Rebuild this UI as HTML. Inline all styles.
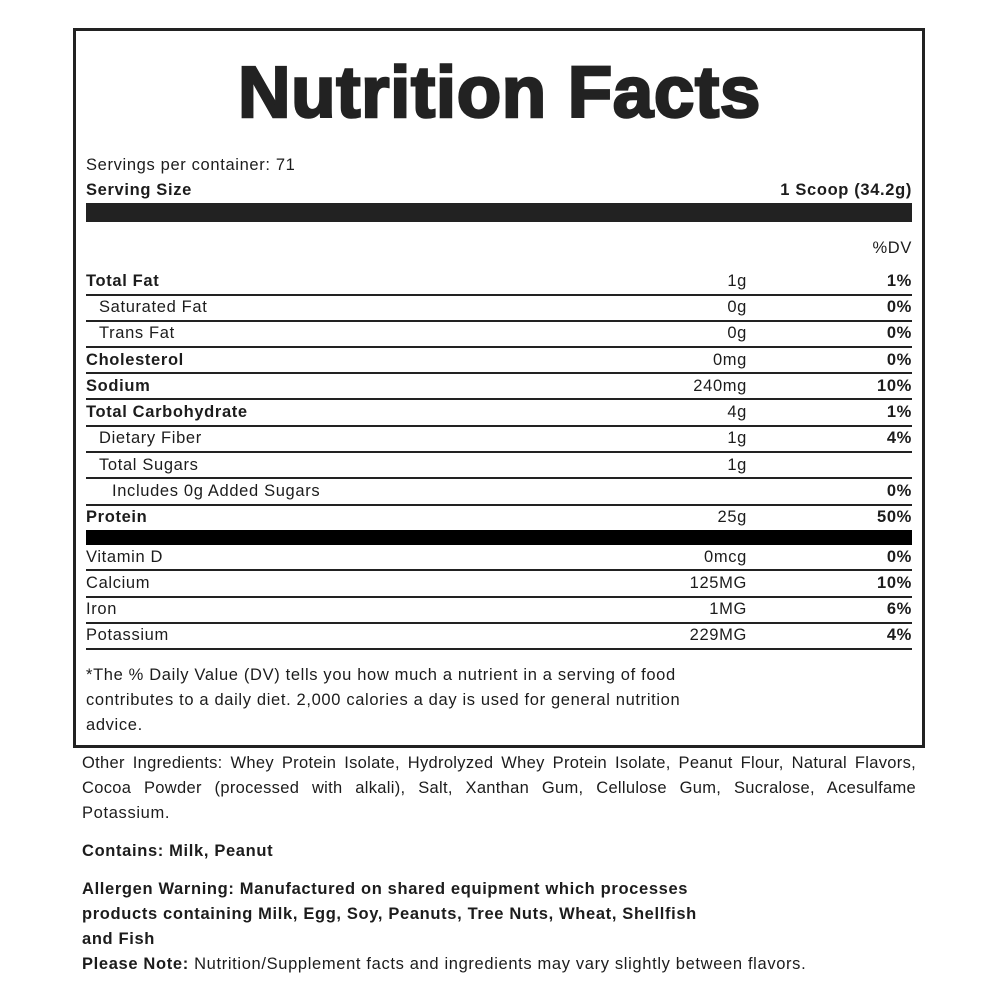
<!DOCTYPE html>
<html><head><meta charset="utf-8"><style>
body{margin:0;background:#fff;}
#c{position:relative;width:1000px;height:1000px;overflow:hidden;font-family:"Liberation Sans",Arial,sans-serif;color:#1c1c1c;font-size:16.5px;letter-spacing:0.65px;}
.t{position:absolute;line-height:20px;white-space:nowrap;}
.b{font-weight:bold;}
.v{right:253px;}
.p{right:88px;font-weight:bold;}
.l{position:absolute;left:86px;width:826px;height:1.5px;background:#222;}
.j{position:absolute;left:82px;width:834px;text-align:justify;text-align-last:justify;line-height:20px;white-space:nowrap;letter-spacing:0.3px;}
</style></head><body><div id="c">
<div style="position:absolute;left:73px;top:28px;width:846px;height:714px;border:3px solid #222;"></div>
<svg style="position:absolute;left:0;top:0" width="1000" height="140"><text x="238" y="117" textLength="523" lengthAdjust="spacingAndGlyphs" font-family="Liberation Sans" font-weight="bold" font-size="72" fill="#222" stroke="#222" stroke-width="2.5">Nutrition Facts</text></svg>
<div class="t" style="left:86px;top:155px">Servings per container: 71</div>
<div class="t b" style="left:86px;top:180px">Serving Size</div>
<div class="t b" style="right:88px;top:180px">1 Scoop (34.2g)</div>
<div style="position:absolute;left:86px;top:203px;width:826px;height:19px;background:#222"></div>
<div class="t" style="right:88px;top:238px">%DV</div>

<div class="t b" style="left:86px;top:271px">Total Fat</div><div class="t v" style="top:271px">1g</div><div class="t p" style="top:271px">1%</div>
<div class="l" style="top:294px"></div>
<div class="t" style="left:99px;top:297px">Saturated Fat</div><div class="t v" style="top:297px">0g</div><div class="t p" style="top:297px">0%</div>
<div class="l" style="top:320px"></div>
<div class="t" style="left:99px;top:323px">Trans Fat</div><div class="t v" style="top:323px">0g</div><div class="t p" style="top:323px">0%</div>
<div class="l" style="top:346px"></div>
<div class="t b" style="left:86px;top:350px">Cholesterol</div><div class="t v" style="top:350px">0mg</div><div class="t p" style="top:350px">0%</div>
<div class="l" style="top:372px"></div>
<div class="t b" style="left:86px;top:376px">Sodium</div><div class="t v" style="top:376px">240mg</div><div class="t p" style="top:376px">10%</div>
<div class="l" style="top:398px"></div>
<div class="t b" style="left:86px;top:402px">Total Carbohydrate</div><div class="t v" style="top:402px">4g</div><div class="t p" style="top:402px">1%</div>
<div class="l" style="top:425px"></div>
<div class="t" style="left:99px;top:428px">Dietary Fiber</div><div class="t v" style="top:428px">1g</div><div class="t p" style="top:428px">4%</div>
<div class="l" style="top:451px"></div>
<div class="t" style="left:99px;top:455px">Total Sugars</div><div class="t v" style="top:455px">1g</div>
<div class="l" style="top:477px"></div>
<div class="t" style="left:112px;top:481px">Includes 0g Added Sugars</div><div class="t p" style="top:481px">0%</div>
<div class="l" style="top:504px"></div>
<div class="t b" style="left:86px;top:507px">Protein</div><div class="t v" style="top:507px">25g</div><div class="t p" style="top:507px">50%</div>
<div style="position:absolute;left:86px;top:530px;width:826px;height:15px;background:#000"></div>
<div class="t" style="left:86px;top:547px">Vitamin D</div><div class="t v" style="top:547px">0mcg</div><div class="t p" style="top:547px">0%</div>
<div class="l" style="top:569px"></div>
<div class="t" style="left:86px;top:573px">Calcium</div><div class="t v" style="top:573px">125MG</div><div class="t p" style="top:573px">10%</div>
<div class="l" style="top:596px"></div>
<div class="t" style="left:86px;top:599px">Iron</div><div class="t v" style="top:599px">1MG</div><div class="t p" style="top:599px">6%</div>
<div class="l" style="top:622px"></div>
<div class="t" style="left:86px;top:625px">Potassium</div><div class="t v" style="top:625px">229MG</div><div class="t p" style="top:625px">4%</div>
<div class="l" style="top:648px"></div>

<div class="t" style="left:86px;top:665px">*The % Daily Value (DV) tells you how much a nutrient in a serving of food</div>
<div class="t" style="left:86px;top:690px">contributes to a daily diet. 2,000 calories a day is used for general nutrition</div>
<div class="t" style="left:86px;top:715px">advice.</div>

<div class="j" style="top:753px">Other Ingredients: Whey Protein Isolate, Hydrolyzed Whey Protein Isolate, Peanut Flour, Natural Flavors,</div>
<div class="j" style="top:778px">Cocoa Powder (processed with alkali), Salt, Xanthan Gum, Cellulose Gum, Sucralose, Acesulfame</div>
<div class="t" style="left:82px;top:803px">Potassium.</div>
<div class="t b" style="left:82px;top:841px">Contains: Milk, Peanut</div>
<div class="t b" style="left:82px;top:879px">Allergen Warning: Manufactured on shared equipment which processes</div>
<div class="t b" style="left:82px;top:904px">products containing Milk, Egg, Soy, Peanuts, Tree Nuts, Wheat, Shellfish</div>
<div class="t b" style="left:82px;top:929px">and Fish</div>
<div class="t" style="left:82px;top:954px"><b>Please Note:</b> Nutrition/Supplement facts and ingredients may vary slightly between flavors.</div>
</div></body></html>
